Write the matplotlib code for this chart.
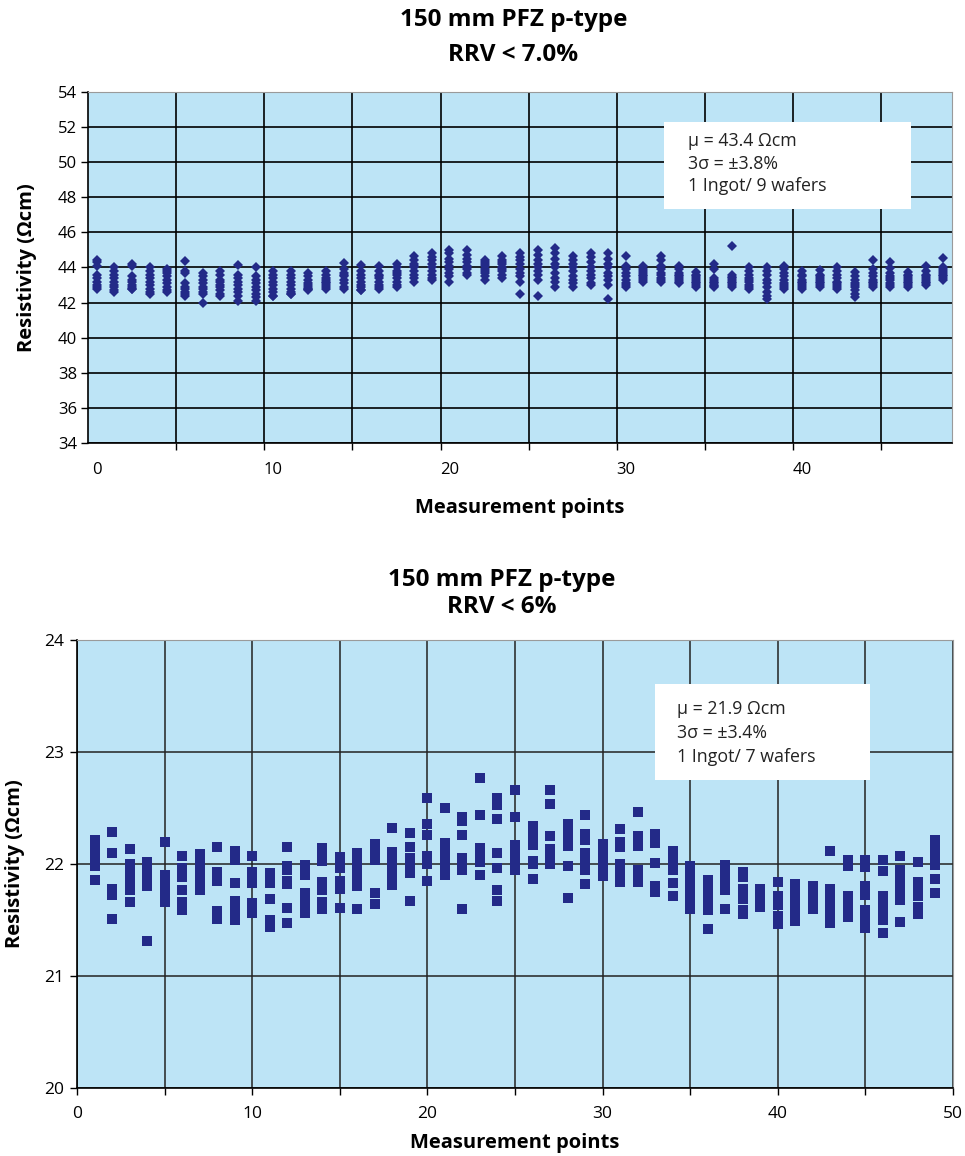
"""Resistivity scatter charts for 150 mm PFZ p-type wafers (two panels)."""

import matplotlib.pyplot as plt
from matplotlib.patches import Rectangle

plt.rcParams["font.family"] = ["Open Sans", "DejaVu Sans"]

bg_color = "#BDE4F6"
mark_color = "#232A88"

# top panel: 49 measurement points (0..48), 9 wafers each
top_x = list(range(49))
top_res = [
    [44.4, 44.3, 44.1, 43.6, 43.4, 43.2, 43.0, 42.9, 42.8],
    [44.0, 43.8, 43.6, 43.4, 43.2, 43.0, 42.9, 42.7, 42.6],
    [44.2, 44.1, 43.5, 43.3, 43.2, 43.0, 42.9, 42.8, 42.8],
    [44.0, 43.8, 43.6, 43.4, 43.2, 43.0, 42.8, 42.6, 42.5],
    [43.9, 43.8, 43.7, 43.5, 43.3, 43.1, 42.9, 42.7, 42.6],
    [44.35, 43.8, 43.7, 43.1, 42.9, 42.8, 42.6, 42.5, 42.4],
    [43.7, 43.5, 43.3, 43.1, 42.9, 42.8, 42.6, 42.5, 42.0],
    [43.8, 43.6, 43.3, 43.2, 43.0, 42.9, 42.7, 42.5, 42.4],
    [44.15, 43.6, 43.4, 43.2, 43.0, 42.8, 42.6, 42.4, 42.1],
    [44.0, 43.5, 43.3, 43.1, 42.9, 42.7, 42.5, 42.3, 42.1],
    [43.8, 43.6, 43.4, 43.2, 43.0, 42.8, 42.6, 42.4, 42.4],
    [43.8, 43.6, 43.4, 43.2, 43.0, 42.8, 42.6, 42.5, 42.5],
    [43.7, 43.5, 43.3, 43.1, 42.9, 42.8, 42.7, 42.8, 43.0],
    [43.8, 43.6, 43.4, 43.2, 43.0, 42.9, 42.8, 43.1, 43.3],
    [44.25, 43.9, 43.7, 43.5, 43.3, 43.1, 42.9, 42.8, 43.6],
    [44.15, 43.8, 43.6, 43.4, 43.2, 43.0, 42.9, 42.7, 42.7],
    [44.1, 43.8, 43.6, 43.4, 43.2, 43.0, 42.9, 42.8, 43.5],
    [44.2, 44.0, 43.8, 43.6, 43.4, 43.2, 43.0, 42.9, 43.7],
    [44.65, 44.4, 44.2, 44.0, 43.8, 43.6, 43.4, 43.2, 44.1],
    [44.85, 44.6, 44.4, 44.2, 44.0, 43.8, 43.6, 43.4, 43.3],
    [45.0, 44.8, 44.5, 44.3, 44.1, 43.9, 43.7, 43.5, 43.2],
    [45.0, 44.7, 44.5, 44.3, 44.1, 43.9, 43.7, 43.6, 44.0],
    [44.45, 44.3, 44.1, 43.9, 43.7, 43.5, 43.3, 43.8, 44.2],
    [44.65, 44.4, 44.2, 44.0, 43.8, 43.6, 43.4, 43.9, 44.3],
    [44.8, 44.6, 44.4, 44.2, 43.9, 43.7, 43.5, 43.2, 42.5],
    [45.0, 44.7, 44.4, 44.2, 44.0, 43.8, 43.6, 43.3, 42.4],
    [45.1, 44.8, 44.5, 44.2, 44.0, 43.7, 43.4, 43.2, 42.9],
    [44.65, 44.4, 44.2, 44.0, 43.8, 43.5, 43.3, 43.1, 42.9],
    [44.85, 44.6, 44.3, 44.0, 43.8, 43.6, 43.4, 43.1, 43.0],
    [44.85, 44.5, 44.2, 44.0, 43.7, 43.5, 43.3, 43.0, 42.2],
    [44.65, 44.1, 43.9, 43.7, 43.5, 43.3, 43.1, 42.9, 43.0],
    [44.1, 43.9, 43.7, 43.5, 43.3, 43.2, 43.6, 43.4, 43.8],
    [44.65, 44.4, 44.1, 43.9, 43.6, 43.4, 43.2, 43.3, 43.7],
    [44.1, 43.9, 43.7, 43.5, 43.3, 43.1, 43.2, 43.4, 43.6],
    [43.75, 43.5, 43.3, 43.1, 42.9, 43.0, 43.2, 43.4, 43.6],
    [44.2, 43.9, 43.4, 43.2, 43.0, 42.9, 43.1, 43.3, 42.95],
    [45.2, 43.55, 43.3, 43.1, 42.9, 43.0, 43.2, 43.4, 43.45],
    [44.0, 43.8, 43.6, 43.4, 43.2, 43.0, 42.8, 42.9, 43.3],
    [44.0, 43.8, 43.6, 43.3, 43.1, 42.9, 42.6, 42.4, 42.2],
    [44.1, 43.9, 43.7, 43.5, 43.3, 43.1, 42.9, 42.8, 43.0],
    [43.8, 43.6, 43.3, 43.1, 42.9, 42.8, 43.0, 43.2, 43.5],
    [43.85, 43.6, 43.4, 43.2, 43.0, 42.9, 43.1, 43.3, 43.5],
    [44.0, 43.8, 43.6, 43.4, 43.2, 43.0, 42.8, 42.9, 43.1],
    [43.75, 43.5, 43.3, 43.1, 42.9, 42.7, 42.5, 42.3, 43.0],
    [44.4, 43.9, 43.7, 43.5, 43.3, 43.1, 42.9, 43.0, 43.2],
    [44.3, 43.95, 43.7, 43.5, 43.3, 43.1, 42.9, 43.0, 43.4],
    [43.75, 43.5, 43.3, 43.1, 42.9, 43.0, 43.2, 43.4, 43.6],
    [44.1, 43.8, 43.6, 43.4, 43.2, 43.0, 43.1, 43.3, 43.5],
    [44.55, 44.0, 43.8, 43.6, 43.4, 43.3, 43.5, 43.7, 43.9],
]
top_info = ["\u03bc = 43.4 \u03a9cm", "3\u03c3 = \u00b13.8%", "1 Ingot/ 9 wafers"]

# bottom panel: 49 measurement points (1..49), 7 wafers each
bot_x = list(range(1, 50))
bot_res = [
    [22.21, 22.15, 22.08, 22.03, 21.98, 21.86, 21.86],
    [22.29, 22.10, 22.10, 21.78, 21.76, 21.72, 21.51],
    [22.13, 22.00, 21.95, 21.90, 21.84, 21.77, 21.66],
    [22.02, 21.98, 21.95, 21.88, 21.84, 21.80, 21.31],
    [22.20, 21.90, 21.87, 21.81, 21.72, 21.70, 21.66],
    [22.07, 21.96, 21.88, 21.77, 21.66, 21.62, 21.59],
    [22.09, 22.05, 22.01, 21.92, 21.88, 21.84, 21.77],
    [22.15, 21.93, 21.89, 21.85, 21.58, 21.55, 21.51],
    [22.12, 22.08, 22.04, 21.83, 21.67, 21.58, 21.50],
    [22.07, 21.93, 21.88, 21.83, 21.65, 21.60, 21.56],
    [21.92, 21.88, 21.83, 21.69, 21.50, 21.47, 21.44],
    [22.15, 21.98, 21.95, 21.85, 21.82, 21.61, 21.47],
    [21.99, 21.90, 21.74, 21.70, 21.66, 21.63, 21.56],
    [22.14, 22.08, 22.03, 21.84, 21.77, 21.66, 21.60],
    [22.06, 22.00, 21.96, 21.85, 21.81, 21.78, 21.61],
    [22.10, 22.01, 21.96, 21.92, 21.86, 21.80, 21.60],
    [22.18, 22.14, 22.10, 22.07, 22.04, 21.74, 21.64],
    [22.32, 22.11, 22.04, 22.00, 21.96, 21.89, 21.81],
    [22.28, 22.15, 22.05, 22.01, 21.95, 21.92, 21.67],
    [22.59, 22.36, 22.26, 22.07, 22.03, 22.00, 21.85],
    [22.50, 22.19, 22.10, 22.07, 22.00, 21.97, 21.90],
    [22.42, 22.38, 22.26, 22.05, 22.00, 21.95, 21.60],
    [22.77, 22.44, 22.14, 22.10, 22.07, 22.02, 21.90],
    [22.59, 22.53, 22.40, 22.10, 21.96, 21.77, 21.67],
    [22.66, 22.42, 22.17, 22.10, 22.05, 22.02, 21.95],
    [22.34, 22.28, 22.20, 22.17, 22.03, 22.00, 21.87],
    [22.66, 22.54, 22.25, 22.13, 22.09, 22.05, 22.00],
    [22.36, 22.29, 22.25, 22.21, 22.16, 21.98, 21.70],
    [22.44, 22.27, 22.21, 22.10, 22.04, 21.95, 21.82],
    [22.18, 22.14, 22.11, 22.04, 21.99, 21.95, 21.89],
    [22.31, 22.20, 22.15, 22.00, 21.97, 21.90, 21.84],
    [22.46, 22.25, 22.20, 22.16, 21.95, 21.90, 21.84],
    [22.27, 22.23, 22.19, 22.01, 21.80, 21.78, 21.75],
    [22.12, 22.08, 22.04, 22.00, 21.95, 21.83, 21.71],
    [21.98, 21.89, 21.82, 21.75, 21.71, 21.67, 21.60],
    [21.86, 21.78, 21.74, 21.69, 21.65, 21.59, 21.42],
    [21.99, 21.95, 21.90, 21.84, 21.80, 21.77, 21.60],
    [21.93, 21.88, 21.78, 21.73, 21.69, 21.59, 21.55],
    [21.78, 21.75, 21.74, 21.71, 21.68, 21.66, 21.62],
    [21.84, 21.71, 21.67, 21.63, 21.54, 21.50, 21.46],
    [21.82, 21.73, 21.69, 21.60, 21.57, 21.52, 21.49],
    [21.80, 21.76, 21.74, 21.71, 21.66, 21.63, 21.60],
    [22.12, 21.78, 21.70, 21.66, 21.62, 21.55, 21.47],
    [22.04, 21.98, 21.71, 21.66, 21.62, 21.58, 21.53],
    [22.04, 21.97, 21.80, 21.72, 21.59, 21.52, 21.43],
    [22.04, 21.94, 21.71, 21.65, 21.57, 21.50, 21.38],
    [22.07, 21.95, 21.86, 21.82, 21.77, 21.68, 21.48],
    [22.02, 21.84, 21.80, 21.71, 21.62, 21.58, 21.55],
    [22.21, 22.15, 22.11, 22.05, 21.99, 21.87, 21.74],
]
bot_info = ["\u03bc = 21.9 \u03a9cm", "3\u03c3 = \u00b13.4%", "1 Ingot/ 7 wafers"]


def info_box(ax, lines, box, text_x, first_y, step):
    x0, y0, x1, y1 = box
    ax.add_patch(Rectangle((x0, y0), x1 - x0, y1 - y0, transform=ax.transAxes,
                           facecolor="white", edgecolor="none", zorder=5))
    for i, line in enumerate(lines):
        ax.text(text_x, first_y - i * step, line, transform=ax.transAxes,
                fontsize=12.8, va="center", ha="left", color="#222222", zorder=6)


def style_spines(ax):
    for side in ["left", "bottom"]:
        ax.spines[side].set_color("black")
        ax.spines[side].set_linewidth(1.2)
    for side in ["top", "right"]:
        ax.spines[side].set_color("#9a9a9a")


fig = plt.figure(figsize=(9.65, 11.56), dpi=100)

# ---- top panel ----
ax1 = fig.add_axes([88 / 965, 1 - 443 / 1156, 864 / 965, 351 / 1156])
ax1.set_facecolor(bg_color)
for x, vals in zip(top_x, top_res):
    ax1.plot([x] * len(vals), vals, "D", color=mark_color, ms=5.4, mew=0, zorder=3)
ax1.set_xlim(-0.5, 48.5)
ax1.set_ylim(34, 54)
ax1.set_yticks(range(34, 55, 2))
ax1.set_xticks([x + 0.5 for x in range(4, 48, 5)], minor=True)
ax1.set_xticks([0, 10, 20, 30, 40])
ax1.tick_params(axis="x", which="major", length=0, pad=14, labelsize=12)
ax1.tick_params(axis="x", which="minor", length=5, width=1, direction="out")
ax1.tick_params(axis="y", length=5, width=1, labelsize=12, pad=3)
ax1.grid(True, axis="y", color="black", linewidth=1.2)
ax1.grid(True, axis="x", which="minor", color="black", linewidth=1.2)
ax1.set_axisbelow(True)
style_spines(ax1)
ax1.set_xlabel("Measurement points", fontsize=14.5, fontweight="bold", labelpad=14)
ax1.set_ylabel("Resistivity (\u03a9cm)", fontsize=14.5, fontweight="bold", labelpad=15)
info_box(ax1, top_info, (0.667, 0.667, 0.9525, 0.9145), 0.6944, 0.860, 0.064)
fig.text(0.532, 1 - 20 / 1156, "150 mm PFZ p-type", ha="center", va="center",
         fontsize=17.5, fontweight="bold")
fig.text(0.532, 1 - 55 / 1156, "RRV < 7.0%", ha="center", va="center",
         fontsize=17.5, fontweight="bold")

# ---- bottom panel ----
ax2 = fig.add_axes([77 / 965, 1 - 1088 / 1156, 876 / 965, 448 / 1156])
ax2.set_facecolor(bg_color)
for x, vals in zip(bot_x, bot_res):
    ax2.plot([x] * len(vals), vals, "s", color=mark_color, ms=6.5, mew=0, zorder=3)
ax2.set_xlim(0, 50)
ax2.set_ylim(20, 24)
ax2.set_xticks(range(0, 51, 10))
ax2.set_xticks(range(5, 50, 10), minor=True)
ax2.set_yticks(range(20, 25))
ax2.tick_params(axis="both", which="both", length=5, width=1, direction="out")
ax2.tick_params(axis="x", which="major", labelsize=12.5, pad=8)
ax2.tick_params(axis="y", which="major", labelsize=12.5, pad=4)
ax2.grid(True, which="both", color="#222222", linewidth=1.1)
ax2.set_axisbelow(True)
style_spines(ax2)
ax2.set_xlabel("Measurement points", fontsize=14.5, fontweight="bold", labelpad=8)
ax2.set_ylabel("Resistivity (\u03a9cm)", fontsize=14.5, fontweight="bold", labelpad=14)
info_box(ax2, bot_info, (0.6598, 0.6875, 0.9053, 0.9018), 0.6849, 0.846, 0.0536)
fig.text(0.52, 1 - 580 / 1156, "150 mm PFZ p-type", ha="center", va="center",
         fontsize=17.5, fontweight="bold")
fig.text(0.52, 1 - 607 / 1156, "RRV < 6%", ha="center", va="center",
         fontsize=17.5, fontweight="bold")

fig.savefig("out.png", dpi=100)
plt.close(fig)
